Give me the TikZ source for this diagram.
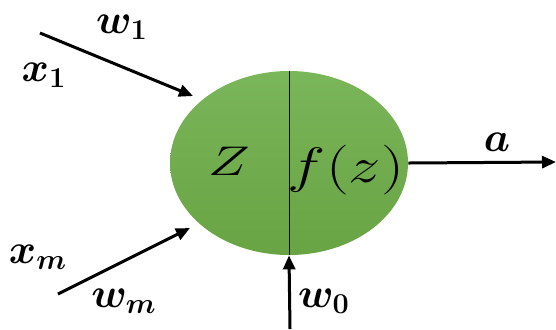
\documentclass[tikz,border=0pt]{standalone}
\usepackage{amsmath}
\usepackage{bm}
\usepackage{tikz}
\usetikzlibrary{positioning,arrows.meta,shapes.geometric,calc}
\definecolor{celltop}{HTML}{7AB65A}
\definecolor{cellbot}{HTML}{68A443}

\begin{document}
\begin{tikzpicture}[
  x=0.5pt, y=-0.5pt,
  cell/.style={ellipse, minimum width=119pt, minimum height=92pt, inner sep=0pt, top color=celltop, bottom color=cellbot, draw=none},
  arr/.style={-{Stealth[length=7pt, width=6pt, inset=0pt]}, line width=1.5pt, black},
  lab/.style={font=\huge, inner sep=0pt},
  big/.style={font=\huge, inner sep=0pt},
]
  \useasboundingbox (0,0) rectangle (556,329);
  \node[cell] (neuron) at (289,163) {};
  \draw[line width=0.5pt] (neuron.north) -- (neuron.south);
  \node[big] (zsum) at (229,161) {\scalebox{1.35}[1]{$Z$}};
  \node[big, font=\Huge] (fz) at (346,170) {\scalebox{1.3}[1]{$f(z)$}};
  % inputs and output
  \coordinate (in1) at (40,33);
  \coordinate (inm) at (58,294);
  \coordinate (in0) at (290,329);
  \coordinate (out) at (556,162);
  \draw[arr] (in1) -- (193,96);
  \draw[arr] (inm) -- (190,228);
  \draw[arr] (in0) -- (neuron.south);
  \draw[arr] (neuron.east) -- (out);
  % labels
  \node[lab] (w1) at (122,27) {$\bm{w}_{\mathbf{1}}$};
  \node[lab] (x1) at (44,75) {$\bm{x}_{\mathbf{1}}$};
  \node[lab] (xm) at (38,257) {$\bm{x}_{\bm{m}}$};
  \node[lab] (wm) at (124,301) {$\bm{w}_{\bm{m}}$};
  \node[lab] (w0) at (324,301) {$\bm{w}_{\mathbf{0}}$};
  \node[lab] (a) at (497,142) {$\bm{a}$};
\end{tikzpicture}
\end{document}
